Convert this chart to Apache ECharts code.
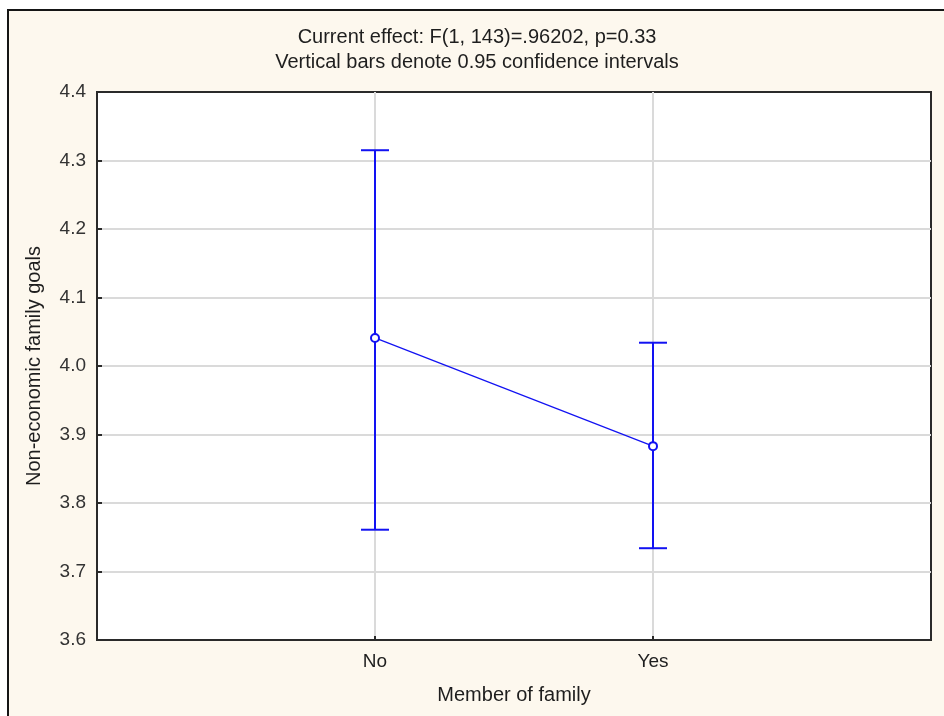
<!DOCTYPE html>
<html>
<head>
<meta charset="utf-8">
<script src="https://cdn.jsdelivr.net/npm/echarts@6/dist/echarts.min.js"></script>
<style>
  html, body { margin: 0; padding: 0; background: #ffffff; }
  #frame {
    position: absolute; left: 7px; top: 9px; width: 937px; height: 707px;
    background: #fdf8ee; border-left: 2px solid #151515; border-top: 2px solid #151515;
  }
  #chart { position: absolute; left: 0; top: 0; width: 944px; height: 716px; }
</style>
</head>
<body>
<div id="frame"></div>
<div id="chart"></div>
<script>
// group means with 0.95 confidence limits
const categories = ['No', 'Yes'];
const means = [4.041, 3.883];
const lower = [3.761, 3.734];
const upper = [4.315, 4.034];
const yTicks = [3.6, 3.7, 3.8, 3.9, 4.0, 4.1, 4.2, 4.3, 4.4];

const blue = '#1212f2';
const font = 'Liberation Sans, Arial, sans-serif';
const ink = '#1e1e1e';

var myChart = echarts.init(document.getElementById('chart'));

var option = {
  animation: false,
  textStyle: { fontFamily: font },
  graphic: [
    {
      type: 'text', x: 477, y: 37,
      style: { text: 'Current effect: F(1, 143)=.96202, p=0.33', align: 'center', verticalAlign: 'middle',
               fontFamily: font, fontSize: 20, fill: ink }
    },
    {
      type: 'text', x: 477, y: 62,
      style: { text: 'Vertical bars denote 0.95 confidence intervals', align: 'center', verticalAlign: 'middle',
               fontFamily: font, fontSize: 20, fill: ink }
    }
  ],
  grid: {
    left: 97, top: 92, right: 13, bottom: 76,
    show: true, backgroundColor: '#ffffff', borderColor: '#2a2a2a', borderWidth: 2
  },
  xAxis: {
    type: 'value', min: 0, max: 3, interval: 1,
    name: 'Member of family', nameLocation: 'middle', nameGap: 45,
    nameTextStyle: { fontSize: 20, color: ink },
    axisLine: { show: false },
    axisTick: { show: true, inside: true, length: 4, lineStyle: { color: '#2a2a2a', width: 2 } },
    axisLabel: {
      fontSize: 19, color: ink, margin: 12,
      formatter: v => categories[v - 1] || ''
    },
    splitLine: { show: true, showMinLine: false, showMaxLine: false, lineStyle: { color: '#dadada', width: 2 } }
  },
  yAxis: {
    type: 'value', min: yTicks[0], max: yTicks[yTicks.length - 1], interval: 0.1,
    name: 'Non-economic family goals', nameLocation: 'middle', nameGap: 53, nameRotate: 90,
    nameTextStyle: { fontSize: 20, color: ink },
    axisLine: { show: false },
    axisTick: { show: true, inside: true, length: 5, lineStyle: { color: '#2a2a2a', width: 2 } },
    axisLabel: { fontSize: 19, color: '#333333', margin: 11, formatter: v => v.toFixed(1) },
    splitLine: { show: true, showMinLine: false, showMaxLine: false, lineStyle: { color: '#dadada', width: 2 } }
  },
  series: [
    {
      type: 'custom',
      data: categories.map((c, i) => [i + 1, lower[i], upper[i]]),
      renderItem: (params, api) => {
        const lo = api.coord([api.value(0), api.value(1)]);
        const hi = api.coord([api.value(0), api.value(2)]);
        const w = 14;
        const style = { stroke: blue, lineWidth: 2 };
        return {
          type: 'group',
          children: [
            { type: 'line', shape: { x1: lo[0], y1: lo[1], x2: hi[0], y2: hi[1] }, style },
            { type: 'line', shape: { x1: hi[0] - w, y1: hi[1], x2: hi[0] + w, y2: hi[1] }, style },
            { type: 'line', shape: { x1: lo[0] - w, y1: lo[1], x2: lo[0] + w, y2: lo[1] }, style }
          ]
        };
      },
      z: 3
    },
    {
      type: 'line',
      data: categories.map((c, i) => [i + 1, means[i]]),
      symbol: 'emptyCircle', symbolSize: 8,
      lineStyle: { color: blue, width: 1.2 },
      itemStyle: { color: blue, borderColor: blue, borderWidth: 1.5 },
      z: 4
    }
  ]
};

myChart.setOption(option);
</script>
</body>
</html>
